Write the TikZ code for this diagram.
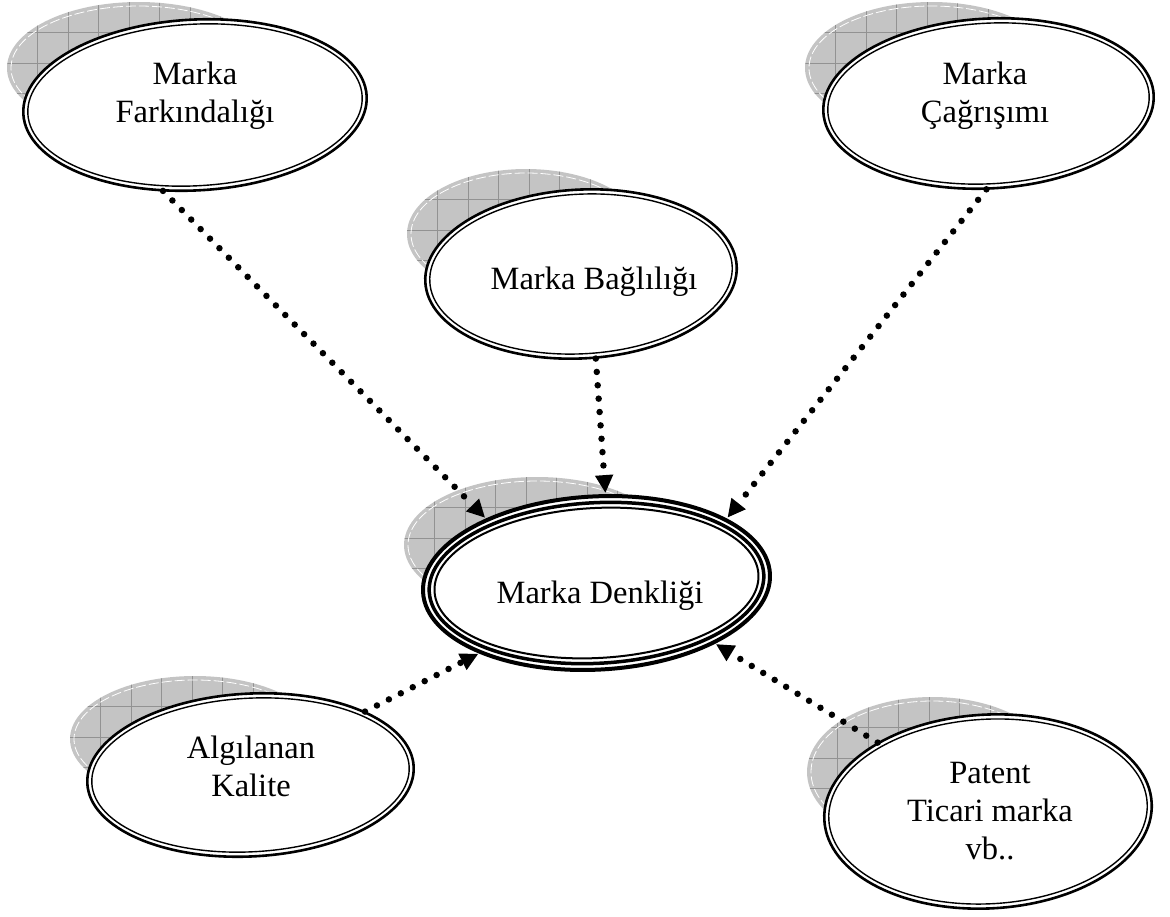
\documentclass[tikz,border=0pt]{standalone}
\usepackage{fontspec}
\setmainfont{Liberation Serif}
\usetikzlibrary{shapes.geometric,arrows.meta}

\definecolor{shadowgray}{HTML}{C4C4C4}
\definecolor{gridgray}{HTML}{929292}

\tikzset{
  bubble/.style={ellipse, draw, fill=white, line width=2.6pt, inner sep=0pt, outer sep=0pt, rotate=3},
  innerring/.style={line width=1.4pt},
  label/.style={align=center, inner sep=0pt, font=\fontsize{32.5}{38}\selectfont},
  conn/.style={line width=6.5pt, line cap=round, dash pattern=on 0pt off 13.4pt,
    -{Triangle[length=18pt,width=17pt]}, shorten >=3pt, shorten <=1pt},
}

% gray gridded shadow: centre x, centre y, x radius, y radius
\newcommand\shadowblob[4]{%
  \fill[shadowgray] (#1,#2) ellipse [x radius=#3pt, y radius=#4pt];
  \begin{scope}
    \clip (#1,#2) ellipse [x radius=#3pt, y radius=#4pt];
    \foreach \i in {1,...,10}
      \draw[gridgray, line width=0.8pt] (#1-#3+\i*30.5, #2-#4-2) -- ++(0, 2*#4+4);
    \foreach \j in {1,...,5}
      \draw[gridgray, line width=0.8pt] (#1-#3-2, #2-#4+\j*30.5) -- ++(2*#3+4, 0);
  \end{scope}
  \draw[white, line width=0.8pt, dash pattern=on 10pt off 3pt]
    (#1,#2) ellipse [x radius=#3pt-4pt, y radius=#4pt-4pt];
}

% extra ring inside a bubble: [style] node name, x radius, y radius
\newcommand\ring[4][innerring]{%
  \draw[#1, rotate around={3:(#2.center)}] (#2.center) ellipse [x radius=#3pt, y radius=#4pt];
}

\begin{document}
\begin{tikzpicture}[x=1pt, y=-1pt]
\useasboundingbox (0,0) rectangle (1170,916);

% shadows
\shadowblob{138.5}{68}{131.5}{66}
\shadowblob{526}{234}{119}{65}
\shadowblob{931.5}{68}{126.5}{66}
\shadowblob{537}{545}{133}{68}
\shadowblob{195}{739}{125}{63}
\shadowblob{932.5}{772}{125.5}{75}

% ellipses
\node[bubble, minimum width=343.8pt, minimum height=170.8pt] (fark) at (195,105) {};
\ring{fark}{167.4}{80.8}
\node[label] (farkt) at (195,96) {Marka\\Farkındalığı};

\node[bubble, minimum width=311.8pt, minimum height=168.8pt] (bag) at (581,274) {};
\ring{bag}{151.4}{79.8}
\node[label] (bagt) at (594,282) {Marka Bağlılığı};

\node[bubble, minimum width=330.8pt, minimum height=169.8pt] (cag) at (988.5,103.5) {};
\ring{cag}{160.9}{80.3}
\node[label] (cagt) at (985,96) {Marka\\Çağrışımı};

\node[bubble, line width=4pt, minimum width=347.4pt, minimum height=173.2pt] (denk) at (596.5,583) {};
\ring[line width=3.5pt]{denk}{167.5}{80.3}
\ring[line width=2pt]{denk}{162.2}{75}
\node[label] (denkt) at (600,596) {Marka Denkliği};

\node[bubble, minimum width=326.8pt, minimum height=162.8pt] (alg) at (250.5,775) {};
\ring{alg}{158.9}{76.8}
\node[label] (algt) at (251,766) {Algılanan\\Kalite};

\node[bubble, minimum width=327.8pt, minimum height=193.8pt] (pat) at (988,811.5) {};
\ring{pat}{159.4}{92.3}
\node[label] (patt) at (990,811) {Patent\\Ticari marka\\vb..};

% dotted connectors (anchor angles are in each bubble's own, slightly turned frame)
\draw[conn] (fark.-114) -- (denk.147);
\draw[conn] (bag.-83) -- (denk.81);
\draw[conn] (cag.-94) -- (denk.23);
\draw[conn] (alg.26) -- (denk.-152);
\draw[conn] (pat.145) -- (denk.-30);
\end{tikzpicture}
\end{document}
